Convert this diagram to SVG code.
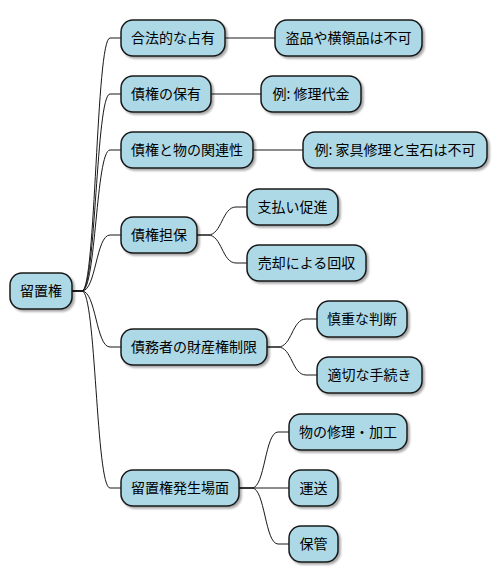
<svg xmlns="http://www.w3.org/2000/svg" width="498" height="583" viewBox="0 0 498 583">
<style>
.n rect{fill:#ADD8E6;stroke:#181818;stroke-width:1.5;filter:url(#sh)}
.n text{font-family:"Noto Sans CJK JP","Noto Sans",sans-serif;font-size:14px;fill:#000;text-anchor:middle}
#edges path{fill:none;stroke:#181818;stroke-width:1}
</style>
<defs>
<filter id="sh" x="-10%" y="-20%" width="130%" height="150%">
<feGaussianBlur in="SourceAlpha" stdDeviation="1.2"/>
<feOffset dx="1.5" dy="1.5" result="b"/>
<feComponentTransfer><feFuncA type="linear" slope="0.35"/></feComponentTransfer>
<feMerge><feMergeNode/><feMergeNode in="SourceGraphic"/></feMerge>
</filter>
</defs>
<rect width="498" height="583" fill="#fff"/>
<g id="edges">
<path d="M72,291 H82 C96,291 96,38 110,38 H121"/>
<path d="M72,291 H82 C96,291 96,94 110,94 H121"/>
<path d="M72,291 H82 C96,291 96,150 110,150 H121"/>
<path d="M72,291 H82 C96,291 96,235 110,235 H121"/>
<path d="M72,291 H82 C96,291 96,347 110,347 H121"/>
<path d="M72,291 H82 C96,291 96,488 110,488 H121"/>
<path d="M225,38 H275"/>
<path d="M211,94 H261"/>
<path d="M253,150 H303"/>
<path d="M197,235 H208 C222,235 222,207 236,207 H247"/>
<path d="M197,235 H208 C222,235 222,263 236,263 H247"/>
<path d="M267,347 H278 C292,347 292,319 306,319 H317"/>
<path d="M267,347 H278 C292,347 292,375 306,375 H317"/>
<path d="M239,488 H252 C265,488 265,432 278,432 H289"/>
<path d="M239,488 H289"/>
<path d="M239,488 H252 C265,488 265,544 278,544 H289"/>
</g>
<g id="root" class="n"><rect x="10" y="273" width="62" height="36" rx="12"/><text x="41" y="296">留置権</text></g>
<g id="n1" class="n"><rect x="121" y="20" width="104" height="36" rx="12"/><text x="173" y="43">合法的な占有</text></g>
<g id="n2" class="n"><rect x="121" y="76" width="90" height="36" rx="12"/><text x="166" y="99">債権の保有</text></g>
<g id="n3" class="n"><rect x="121" y="132" width="132" height="36" rx="12"/><text x="187" y="155">債権と物の関連性</text></g>
<g id="n4" class="n"><rect x="121" y="217" width="76" height="36" rx="12"/><text x="159" y="240">債権担保</text></g>
<g id="n5" class="n"><rect x="121" y="329" width="146" height="36" rx="12"/><text x="194" y="352">債務者の財産権制限</text></g>
<g id="n6" class="n"><rect x="121" y="470" width="118" height="36" rx="12"/><text x="180" y="493">留置権発生場面</text></g>
<g id="n1a" class="n"><rect x="275" y="20" width="147" height="36" rx="12"/><text x="348.5" y="43">盗品や横領品は不可</text></g>
<g id="n2a" class="n"><rect x="261" y="76" width="100" height="36" rx="12"/><text x="311" y="99">例: 修理代金</text></g>
<g id="n3a" class="n"><rect x="303" y="132" width="184" height="36" rx="12"/><text x="395" y="155">例: 家具修理と宝石は不可</text></g>
<g id="n4a" class="n"><rect x="247" y="189" width="91" height="36" rx="12"/><text x="292.5" y="212">支払い促進</text></g>
<g id="n4b" class="n"><rect x="247" y="245" width="119" height="36" rx="12"/><text x="306.5" y="268">売却による回収</text></g>
<g id="n5a" class="n"><rect x="317" y="301" width="90" height="36" rx="12"/><text x="362" y="324">慎重な判断</text></g>
<g id="n5b" class="n"><rect x="317" y="357" width="105" height="36" rx="12"/><text x="369.5" y="380">適切な手続き</text></g>
<g id="n6a" class="n"><rect x="289" y="414" width="118" height="36" rx="12"/><text x="348" y="437">物の修理・加工</text></g>
<g id="n6b" class="n"><rect x="289" y="470" width="49" height="36" rx="12"/><text x="313.5" y="493">運送</text></g>
<g id="n6c" class="n"><rect x="289" y="526" width="49" height="36" rx="12"/><text x="313.5" y="549">保管</text></g>
</svg>
